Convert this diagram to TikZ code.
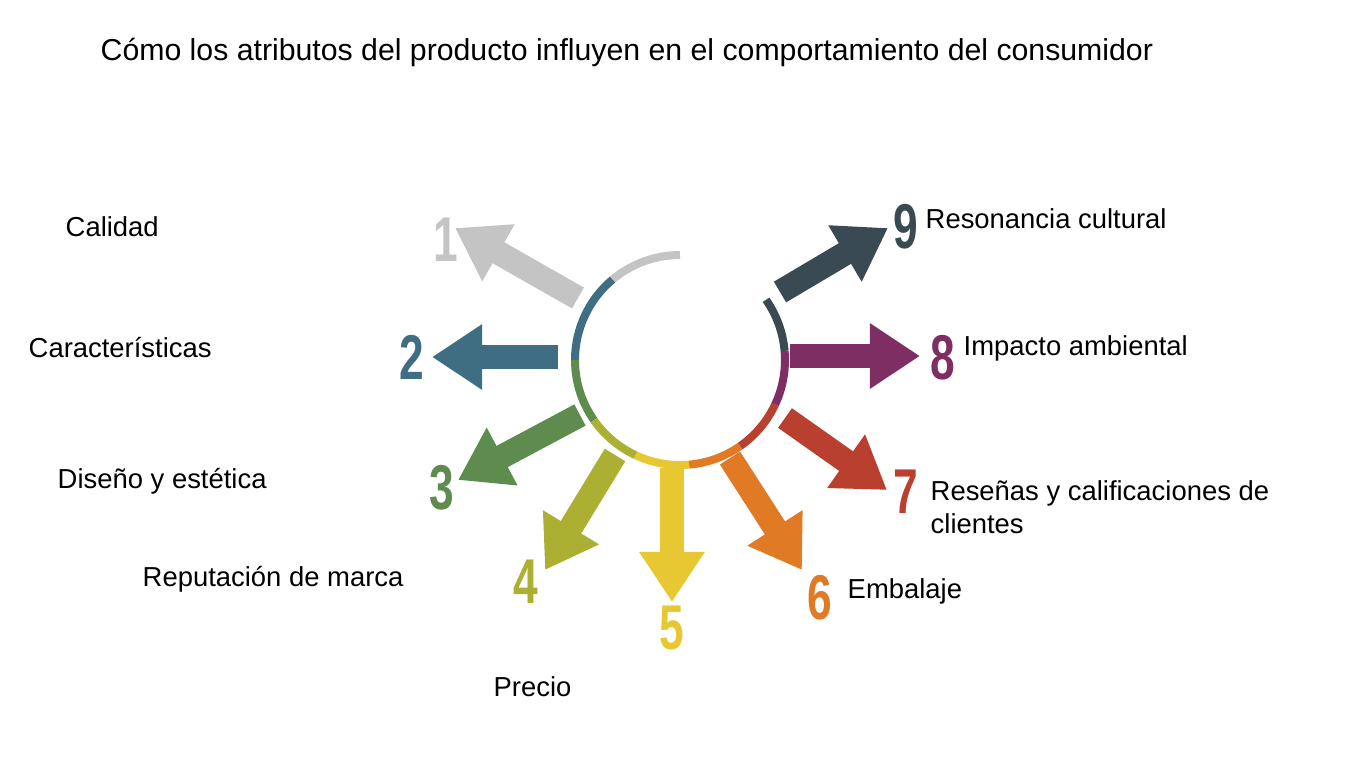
\documentclass[tikz,border=0pt]{standalone}
\usepackage{fontspec}
\setmainfont{Liberation Sans}
\usetikzlibrary{arrows.meta}
\definecolor{cgrey}{HTML}{C4C4C4}
\definecolor{cteal}{HTML}{3F6E82}
\definecolor{cgreen}{HTML}{5E8C4E}
\definecolor{colive}{HTML}{ABB032}
\definecolor{cyellow}{HTML}{E8C832}
\definecolor{corange}{HTML}{E07A24}
\definecolor{cred}{HTML}{B9402F}
\definecolor{cpurple}{HTML}{7E2E63}
\definecolor{cdark}{HTML}{3A4A52}
\tikzset{
  fat/.style={line width=0.24cm, -{Triangle[length=0.5cm,width=0.62cm]}},
  swoosh/.style={line width=0.08cm},
  num/.style={font=\fontsize{18}{18}\selectfont\bfseries, xscale=0.7, transform shape},
  lbl/.style={font=\fontsize{7.8}{9.5}\selectfont, anchor=west, inner sep=0pt, align=left}
}
\begin{document}
\begin{tikzpicture}[x=0.01cm,y=-0.01cm]
\useasboundingbox (0,0) rectangle (1350,759);
\node[lbl, font=\fontsize{8.6}{10}\selectfont] (title) at (100,52) {Cómo los atributos del producto influyen en el comportamiento del consumidor};
\coordinate (c) at (680,360);
\draw[fat, cgrey] (578,298) -- (455,228);
\draw[fat, cteal] (558,357) -- (432,357);
\draw[fat, cgreen] (580,415) -- (458,480);
\draw[fat, colive] (615,455) -- (545,570);
\draw[fat, cyellow] (672,468) -- (672,602);
\draw[fat, corange] (730,458) -- (802,570);
\draw[fat, cred] (785,418) -- (887,490);
\draw[fat, cpurple] (790,356) -- (920,356);
\draw[fat, cdark] (780,292) -- (888,228);
% swoosh round the centre
\draw[swoosh, cgrey] ([shift={(270:105)}]c) arc (270:230:105);
\draw[swoosh, cteal] ([shift={(230:105)}]c) arc (230:180:105);
\draw[swoosh, cgreen] ([shift={(180:105)}]c) arc (180:145:105);
\draw[swoosh, colive] ([shift={(145:105)}]c) arc (145:115:105);
\draw[swoosh, cyellow] ([shift={(115:105)}]c) arc (115:85:105);
\draw[swoosh, corange] ([shift={(85:105)}]c) arc (85:55:105);
\draw[swoosh, cred] ([shift={(55:105)}]c) arc (55:25:105);
\draw[swoosh, cpurple] ([shift={(25:105)}]c) arc (25:-5:105);
\draw[swoosh, cdark] ([shift={(-5:105)}]c) arc (-5:-35:105);
\node[num, cgrey] (n1) at (446,240) {1};
\node[num, cteal] (n2) at (412,357) {2};
\node[num, cgreen] (n3) at (442,488) {3};
\node[num, colive] (n4) at (526,582) {4};
\node[num, cyellow] (n5) at (672,628) {5};
\node[num, corange] (n6) at (820,598) {6};
\node[num, cred] (n7) at (906,492) {7};
\node[num, cpurple] (n8) at (943,358) {8};
\node[num, cdark] (n9) at (906,227) {9};
\node[lbl] (l1) at (65,227) {Calidad};
\node[lbl] (l2) at (28,348) {Características};
\node[lbl] (l3) at (57,481) {Diseño y estética};
\node[lbl] (l4) at (142,579) {Reputación de marca};
\node[lbl] (l5) at (493,687) {Precio};
\node[lbl] (l6) at (847,591) {Embalaje};
\node[lbl] (l7) at (930,507) {Reseñas y calificaciones de\\clientes};
\node[lbl] (l8) at (963,348) {Impacto ambiental};
\node[lbl] (l9) at (925,219) {Resonancia cultural};
\end{tikzpicture}
\end{document}
